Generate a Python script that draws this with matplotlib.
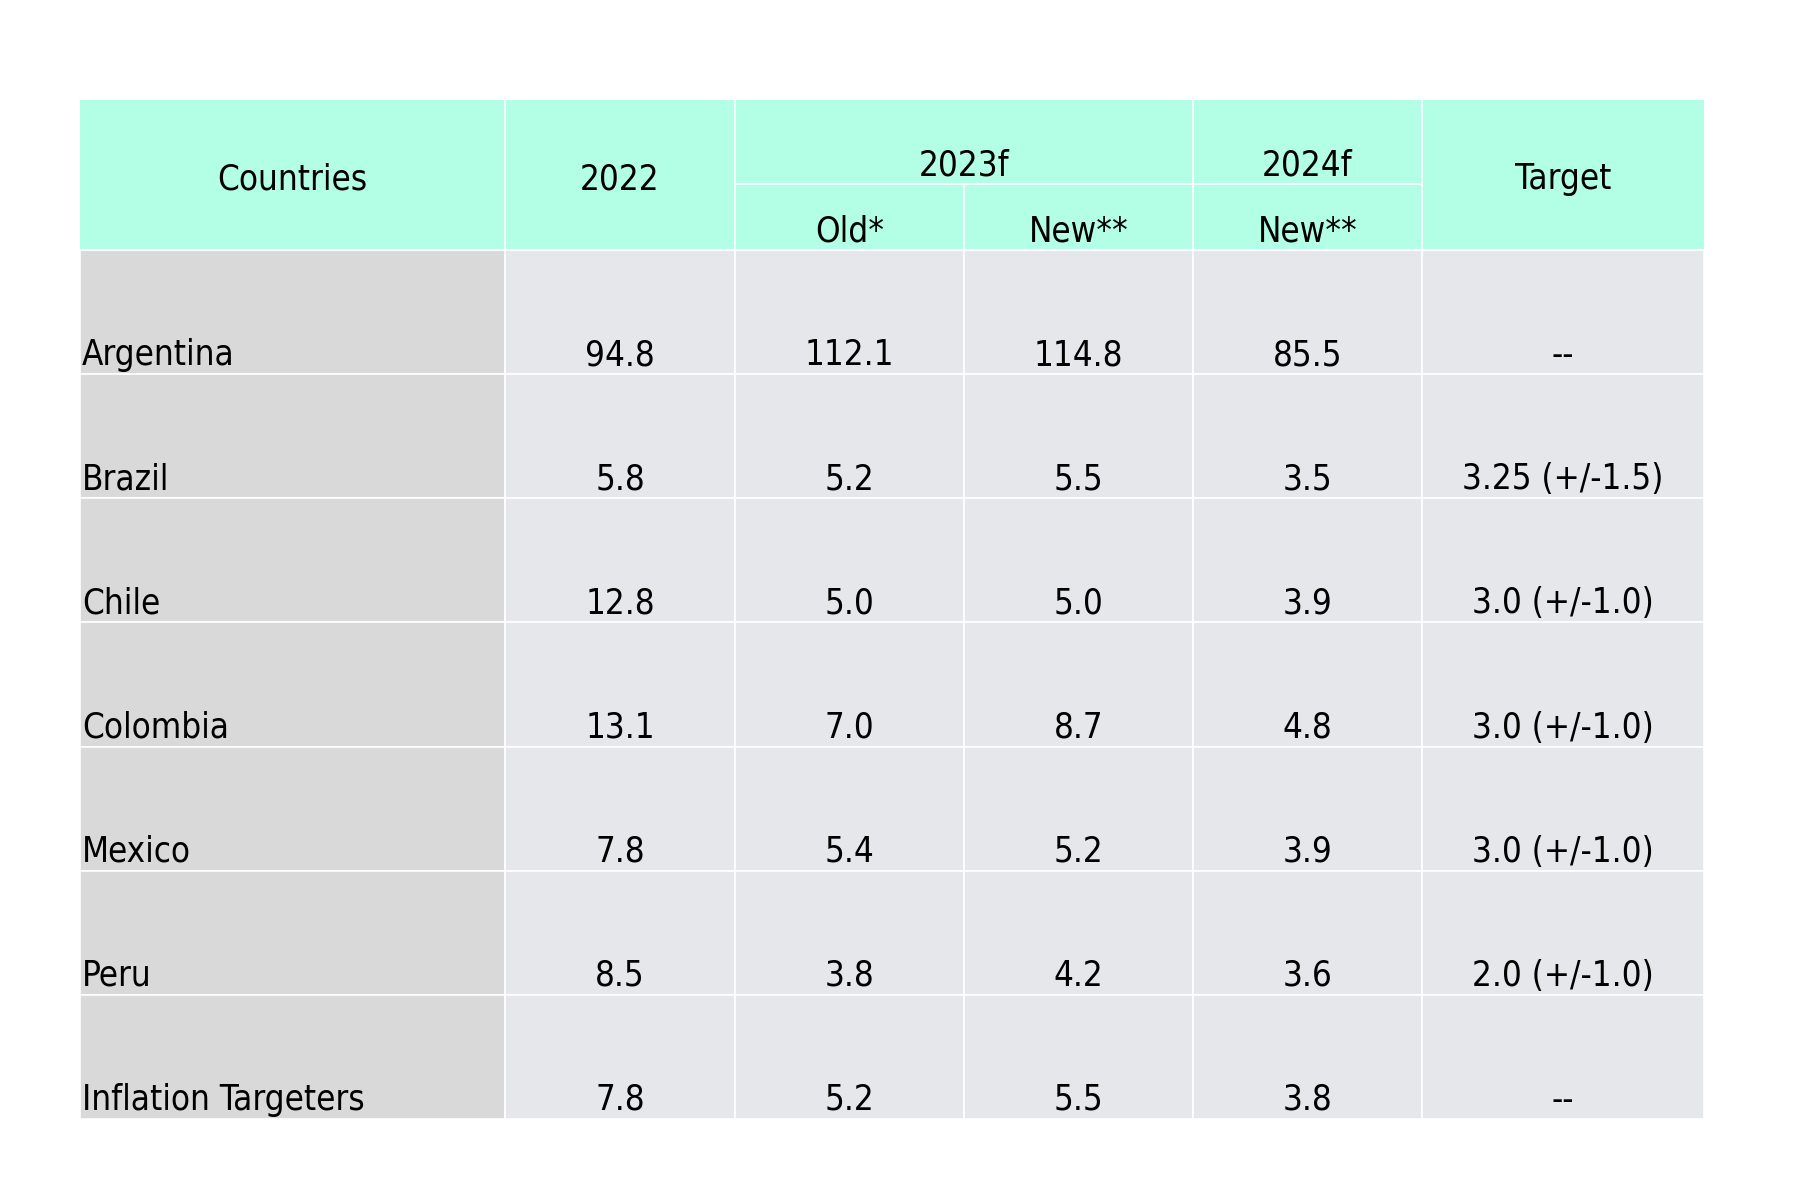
"""Inflation forecasts table for Latin American countries, drawn as matplotlib patches."""

import matplotlib

matplotlib.use("Agg")
import matplotlib.pyplot as plt
from matplotlib import font_manager
from matplotlib.patches import Rectangle

# prefer a narrow face if one is installed; the reference uses a condensed sans
_names = {f.name for f in font_manager.fontManager.ttflist}
_narrow = [n for n in ("Liberation Sans Narrow", "DejaVu Sans Condensed") if n in _names]
plt.rcParams["font.family"] = _narrow + ["DejaVu Sans"]
plt.rcParams["font.stretch"] = "condensed"

countries = ["Argentina", "Brazil", "Chile", "Colombia", "Mexico", "Peru", "Inflation Targeters"]
y2022 = ["94.8", "5.8", "12.8", "13.1", "7.8", "8.5", "7.8"]
y2023_old = ["112.1", "5.2", "5.0", "7.0", "5.4", "3.8", "5.2"]
y2023_new = ["114.8", "5.5", "5.0", "8.7", "5.2", "4.2", "5.5"]
y2024_new = ["85.5", "3.5", "3.9", "4.8", "3.9", "3.6", "3.8"]
targets = ["--", "3.25 (+/-1.5)", "3.0 (+/-1.0)", "3.0 (+/-1.0)", "3.0 (+/-1.0)", "2.0 (+/-1.0)", "--"]

HEADER_BG = "#b3ffe6"
BODY_BG = "#e6e7ea"
FIRST_COL_BG = "#d9d9d9"
LINE = "#ffffff"
FS = 25

# pixel layout (figure is 1800 x 1200)
col_edges = [80, 505, 735, 964, 1193, 1422, 1704]
top, sub_y, head_bottom = 100, 184, 250
row_h = (1119 - head_bottom) / len(countries)

fig = plt.figure(figsize=(18, 12), dpi=100)
ax = fig.add_axes([0, 0, 1, 1])
ax.set_xlim(0, 1800)
ax.set_ylim(1200, 0)
ax.axis("off")

left, right = col_edges[0], col_edges[-1]
ax.add_patch(Rectangle((left, top), right - left, head_bottom - top, color=HEADER_BG, lw=0))

columns = [countries, y2022, y2023_old, y2023_new, y2024_new, targets]
for i, col in enumerate(columns):
    x0, x1 = col_edges[i], col_edges[i + 1]
    bg = FIRST_COL_BG if i == 0 else BODY_BG
    for r, val in enumerate(col):
        y0 = head_bottom + r * row_h
        ax.add_patch(Rectangle((x0, y0), x1 - x0, row_h, facecolor=bg, edgecolor=LINE, lw=1.2))
        if i == 0:
            ax.text(x0 + 2, y0 + row_h - 9, val, ha="left", va="baseline", fontsize=FS)
        else:
            ax.text((x0 + x1) / 2, y0 + row_h - 9, val, ha="center", va="baseline", fontsize=FS)

# header grid lines
for x in col_edges[1:-1]:
    if x == col_edges[3]:
        ax.plot([x, x], [sub_y, head_bottom], color=LINE, lw=1.2)
    else:
        ax.plot([x, x], [top, head_bottom], color=LINE, lw=1.2)
ax.plot([col_edges[2], col_edges[5]], [sub_y, sub_y], color=LINE, lw=1.2)
ax.plot([left, right], [head_bottom, head_bottom], color=LINE, lw=1.5)

mid = lambda a, b: (col_edges[a] + col_edges[b]) / 2
head_mid = (top + head_bottom) / 2 + 4
ax.text(mid(0, 1), head_mid, "Countries", ha="center", va="center", fontsize=FS)
ax.text(mid(1, 2), head_mid, "2022", ha="center", va="center", fontsize=FS)
ax.text(mid(2, 4), 166, "2023f", ha="center", va="center", fontsize=FS)
ax.text(mid(4, 5), 166, "2024f", ha="center", va="center", fontsize=FS)
ax.text(mid(5, 6), head_mid, "Target", ha="center", va="center", fontsize=FS)
ax.text(mid(2, 3), 232, "Old*", ha="center", va="center", fontsize=FS)
ax.text(mid(3, 4), 232, "New**", ha="center", va="center", fontsize=FS)
ax.text(mid(4, 5), 232, "New**", ha="center", va="center", fontsize=FS)

fig.savefig("out.png", dpi=100, facecolor="white")
